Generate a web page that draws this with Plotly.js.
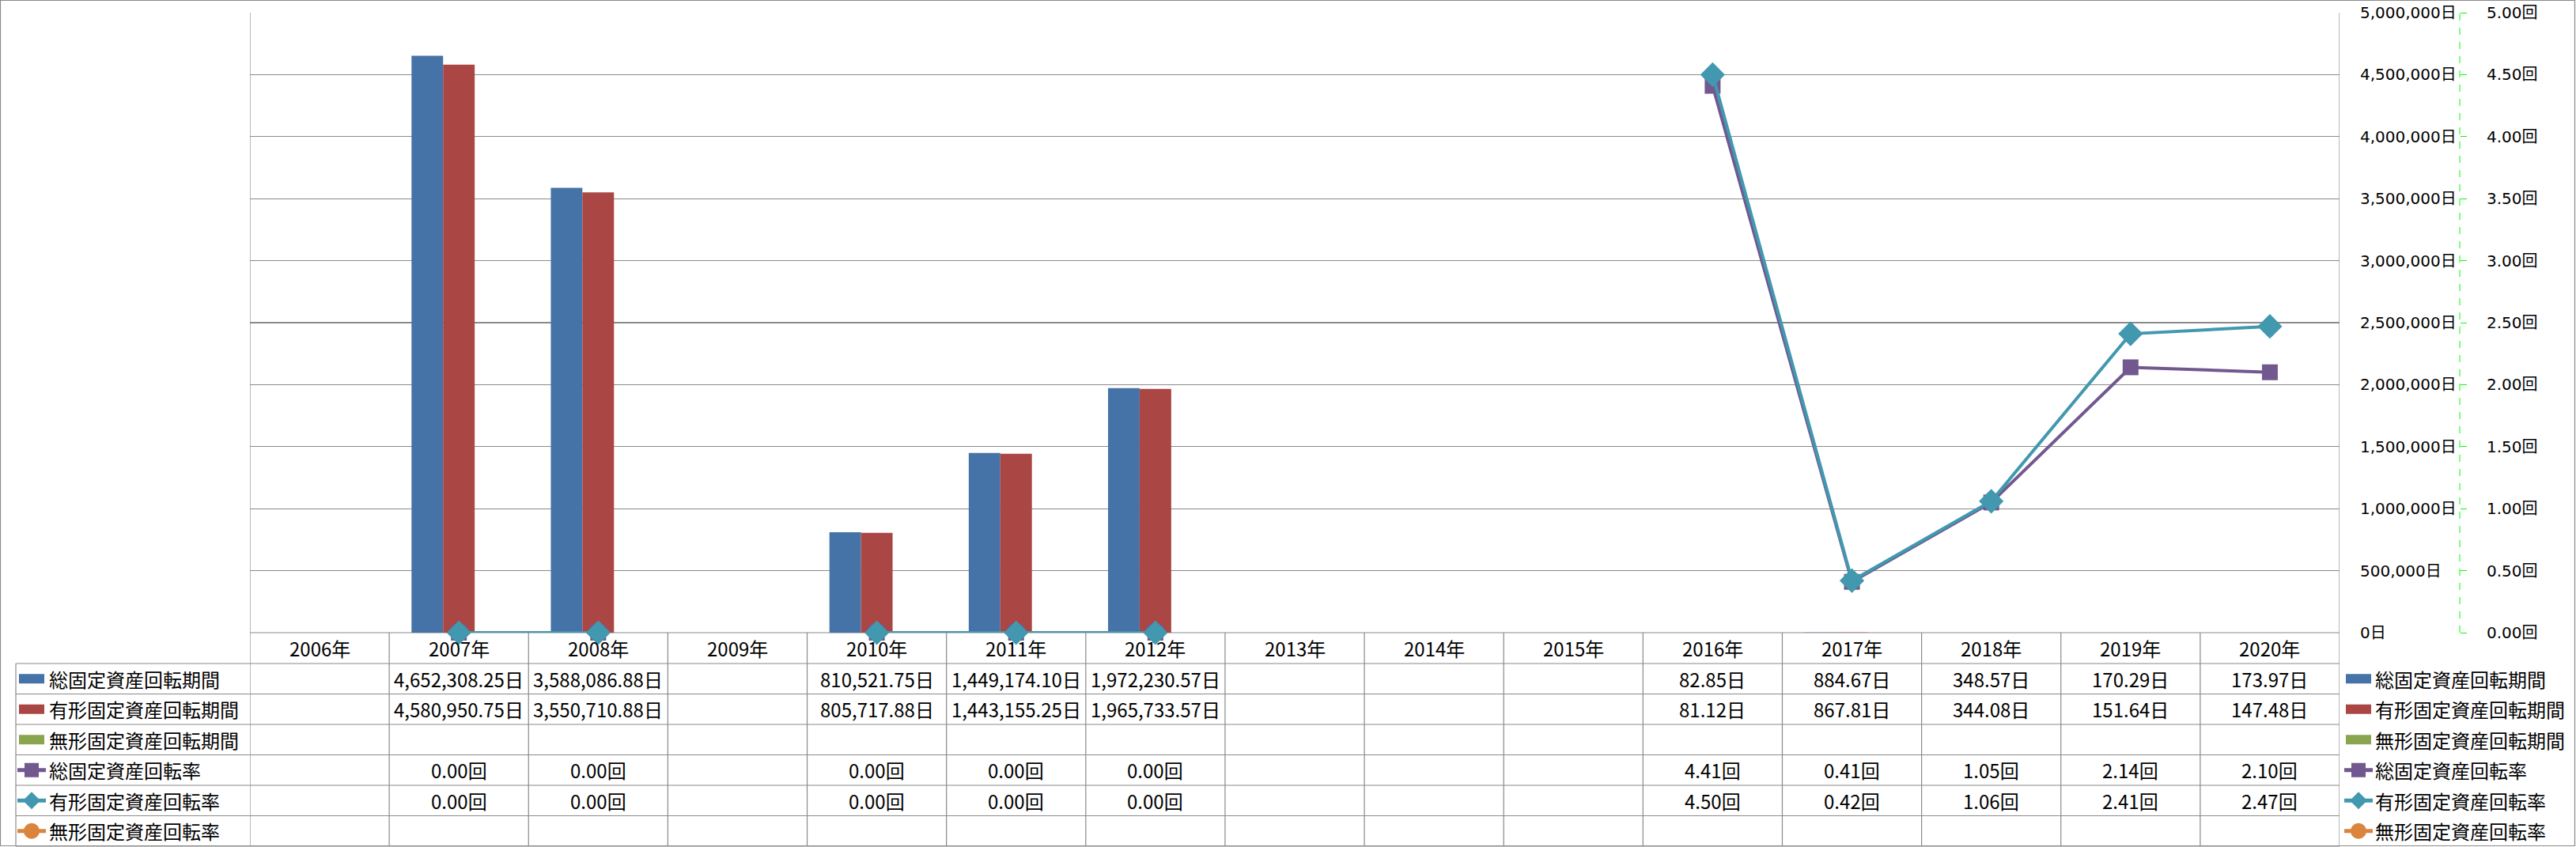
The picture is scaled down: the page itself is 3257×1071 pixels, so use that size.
<!DOCTYPE html>
<html>
<head>
<meta charset="utf-8">
<script src="https://cdn.plot.ly/plotly-3.0.1.min.js"></script>
<style>html,body{margin:0;padding:0;background:#fff;}#chart{width:3257px;height:1071px;}</style>
</head>
<body>
<div id="chart"></div>
<script>
// ---- data ----
const years = ['2006年','2007年','2008年','2009年','2010年','2011年','2012年','2013年','2014年','2015年','2016年','2017年','2018年','2019年','2020年'];
const seriesNames = ['総固定資産回転期間','有形固定資産回転期間','無形固定資産回転期間','総固定資産回転率','有形固定資産回転率','無形固定資産回転率'];
const totalPeriod = [null,4652308.25,3588086.88,null,810521.75,1449174.10,1972230.57,null,null,null,82.85,884.67,348.57,170.29,173.97];
const tangiblePeriod = [null,4580950.75,3550710.88,null,805717.88,1443155.25,1965733.57,null,null,null,81.12,867.81,344.08,151.64,147.48];
const intangiblePeriod = [null,null,null,null,null,null,null,null,null,null,null,null,null,null,null];
const totalRate = [null,0.00,0.00,null,0.00,0.00,0.00,null,null,null,4.41,0.41,1.05,2.14,2.10];
const tangibleRate = [null,0.00,0.00,null,0.00,0.00,0.00,null,null,null,4.50,0.42,1.06,2.41,2.47];
const intangibleRate = [null,null,null,null,null,null,null,null,null,null,null,null,null,null,null];

// ---- styles ----
const colors = ['#4572A7','#AA4643','#89A54E','#71588F','#4198AF','#DB843D'];
const W = 3257, H = 1071;
const ML = 316, MR = 100, MT = 16, MB = 271;
const plotRightPx = 2958;
const paperW = W - ML - MR, paperH = H - MT - MB;
const fx = px => (px - ML) / paperW;
const fy = py => (H - MB - py) / paperH;
const domainEnd = fx(plotRightPx);
const y2Pos = fx(3110);
const gridColor = '#8a8a8a';
const tableFont = {family: '"Liberation Sans Narrow", "Noto Sans CJK JP", sans-serif', size: 24, color: '#000'};

const traces = [];
const periodSeries = [totalPeriod, tangiblePeriod, intangiblePeriod];
periodSeries.forEach((s, i) => {
  traces.push({type:'bar', name:seriesNames[i], x:years, y:s, marker:{color:colors[i]}, yaxis:'y', hoverinfo:'skip'});
});
const rateSeries = [totalRate, tangibleRate, intangibleRate];
const symbols = ['square','diamond','circle'];
const msizes = [20, 24, 20];
rateSeries.forEach((s, i) => {
  traces.push({type:'scatter', mode:'lines+markers', name:seriesNames[i+3], x:years, y:s, yaxis:'y2',
    line:{color:colors[i+3], width:4}, marker:{symbol:symbols[i], size:msizes[i], color:colors[i+3]},
    connectgaps:false, cliponaxis:false, hoverinfo:'skip'});
});

// ---- table geometry ----
const headerTop = 800, headerBot = 839, rowH = 38.5;
const nRows = 6;
const tableBot = headerBot + rowH * nRows;
const legendLeft = 20;
const shapes = [];
const annotations = [];
const lineStyle = {color: gridColor, width: 1.2};

// vertical lines of table (category boundaries)
for (let k = 0; k <= years.length; k++) {
  const top = (k === 0 || k === years.length) ? MT : headerTop;
  shapes.push({type:'line', xref:'x', yref:'paper', x0:k-0.5, x1:k-0.5, y0:fy(top), y1:fy(tableBot), line:lineStyle, layer:'below'});
}
// header top line
shapes.push({type:'line', xref:'paper', yref:'paper', x0:fx(ML), x1:domainEnd, y0:fy(headerTop), y1:fy(headerTop), line:lineStyle, layer:'below'});
// row lines
for (let r = 0; r <= nRows; r++) {
  const yy = headerBot + r * rowH;
  shapes.push({type:'line', xref:'paper', yref:'paper', x0:fx(legendLeft), x1:domainEnd, y0:fy(yy), y1:fy(yy), line:lineStyle, layer:'below'});
}
// legend column left border
shapes.push({type:'line', xref:'paper', yref:'paper', x0:fx(legendLeft), x1:fx(legendLeft), y0:fy(headerBot), y1:fy(tableBot), line:lineStyle, layer:'below'});
// outer chart border
shapes.push({type:'rect', xref:'paper', yref:'paper', x0:fx(0.5), x1:fx(W-1.5), y0:fy(0.5), y1:fy(H-1.5), line:{color:gridColor, width:1.2}, layer:'below'});
// secondary axis dashed line
shapes.push({type:'line', xref:'paper', yref:'paper', x0:y2Pos, x1:y2Pos, y0:0, y1:1, line:{color:'#00ff00', width:1, dash:'dash'}});

// header labels
years.forEach((yr, k) => {
  annotations.push({xref:'x', yref:'paper', x:yr, y:fy((headerTop+headerBot)/2), text:yr, showarrow:false, font:tableFont, xanchor:'center', yanchor:'middle'});
});
// table values
const fmtDays = v => v.toLocaleString('en-US', {minimumFractionDigits:2, maximumFractionDigits:2}) + '日';
const fmtRate = v => v.toFixed(2) + '回';
const allSeries = [totalPeriod, tangiblePeriod, intangiblePeriod, totalRate, tangibleRate, intangibleRate];
allSeries.forEach((s, r) => {
  const cy = headerBot + rowH * (r + 0.5);
  s.forEach((v, k) => {
    if (v === null) return;
    annotations.push({xref:'x', yref:'paper', x:years[k], y:fy(cy), text: r < 3 ? fmtDays(v) : fmtRate(v), showarrow:false, font:tableFont, xanchor:'center', yanchor:'middle'});
  });
});

// legend keys (table left column and right legend)
function addKey(x0, r) {
  const cy = headerBot + rowH * (r + 0.5);
  const c = colors[r];
  if (r < 3) {
    shapes.push({type:'rect', xref:'paper', yref:'paper', x0:fx(x0), x1:fx(x0+32), y0:fy(cy-6), y1:fy(cy+6), fillcolor:c, line:{width:0}});
  } else {
    shapes.push({type:'line', xref:'paper', yref:'paper', x0:fx(x0-2), x1:fx(x0+34), y0:fy(cy), y1:fy(cy), line:{color:c, width:5}});
    const mx = x0 + 16;
    if (r === 3) {
      shapes.push({type:'rect', xref:'paper', yref:'paper', x0:fx(mx-9), x1:fx(mx+9), y0:fy(cy-9), y1:fy(cy+9), fillcolor:c, line:{width:0}});
    } else if (r === 4) {
      const d = 11;
      const pts = [[mx, cy-d],[mx+d, cy],[mx, cy+d],[mx-d, cy]].map(p => fx(p[0]) + ',' + fy(p[1]));
      shapes.push({type:'path', xref:'paper', yref:'paper', path:'M' + pts.join(' L') + ' Z', fillcolor:c, line:{width:0}});
    } else {
      shapes.push({type:'circle', xref:'paper', yref:'paper', x0:fx(mx-10), x1:fx(mx+10), y0:fy(cy-10), y1:fy(cy+10), fillcolor:c, line:{width:0}});
    }
  }
  return cy;
}
seriesNames.forEach((name, r) => {
  const cy1 = addKey(24, r);
  annotations.push({xref:'paper', yref:'paper', x:fx(60), y:fy(cy1), text:name, showarrow:false, font:tableFont, xanchor:'left', yanchor:'middle'});
  const cy2 = addKey(2966, r);
  annotations.push({xref:'paper', yref:'paper', x:fx(3001), y:fy(cy2), text:name, showarrow:false, font:tableFont, xanchor:'left', yanchor:'middle'});
});

const layout = {
  width: W, height: H,
  margin: {l:ML, r:MR, t:MT, b:MB, pad:0},
  paper_bgcolor:'#ffffff', plot_bgcolor:'#ffffff',
  showlegend:false,
  barmode:'group', bargap:0.32, bargroupgap:0,
  xaxis: {type:'category', domain:[0, domainEnd], range:[-0.5, years.length-0.5], showticklabels:false, showgrid:false, zeroline:false, showline:false, ticks:''},
  yaxis: {side:'right', range:[0, 5000000], tick0:0, dtick:500000, tickformat:',.0f', ticksuffix:'日',
    showgrid:true, gridcolor:gridColor, gridwidth:1.2, zeroline:false, showline:false, ticks:'', ticklabelstandoff:25,
    tickfont:{family:'"DejaVu Sans", "Noto Sans CJK JP", sans-serif', size:20, color:'#000'}},
  yaxis2: {overlaying:'y', side:'right', anchor:'free', position:y2Pos, range:[0,5], tick0:0, dtick:0.5, tickformat:'.2f', ticksuffix:'回',
    showgrid:false, zeroline:false, showline:false, ticks:'outside', ticklen:8, tickwidth:1, tickcolor:'#00ff00', ticklabelstandoff:21,
    tickfont:{family:'"DejaVu Sans", "Noto Sans CJK JP", sans-serif', size:20, color:'#000'}},
  shapes: shapes,
  annotations: annotations
};

Plotly.newPlot('chart', traces, layout, {staticPlot:true, displayModeBar:false});
</script>
</body>
</html>
